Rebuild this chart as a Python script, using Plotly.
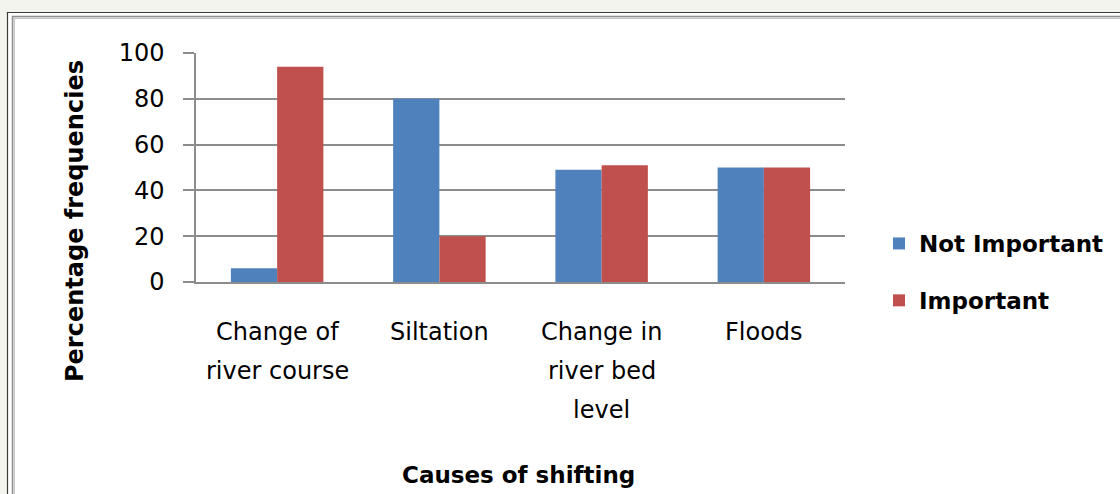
import plotly.graph_objects as go

# ---- data -------------------------------------------------------------
categories = ["Change of river course", "Siltation", "Change in river bed level", "Floods"]
tick_lines = [["Change of", "river course"], ["Siltation"],
              ["Change in", "river bed", "level"], ["Floods"]]
not_important = [6, 80, 49, 50]
important = [94, 20, 51, 50]
y_ticks = [0, 20, 40, 60, 80, 100]

# ---- geometry of the figure (pixels) ----------------------------------
W, H = 1120, 494
L, R, T, B = 196, 845, 53, 282          # plot-area edges
PW, PH = R - L, B - T
LABEL_TOP, LINE_STEP = 332, 39          # category label first line / spacing


def px(x):
    return (x - L) / PW


def py(y):
    return (B - y) / PH


FONT = "DejaVu Sans"
BLUE = "#4f81bd"
RED = "#c0504d"
GRID = "#8c8c8c"

fig = go.Figure()
fig.add_trace(go.Bar(x=categories, y=not_important, name="Not Important",
                     marker=dict(color=BLUE, line=dict(width=0)),
                     legendgroup="a"))
fig.add_trace(go.Bar(x=categories, y=important, name="Important",
                     marker=dict(color=RED, line=dict(width=0)),
                     legendgroup="b"))

# chart frame: dark outer rule and a grey double inner rule
frame = [
    (7.5, 12.5, "#3c3c3c", 1.2, "white"),
    (12.5, 16.5, "#8f8f8f", 1.5, "rgba(0,0,0,0)"),
    (14.2, 18.2, "#c6c6c6", 1.5, "rgba(0,0,0,0)"),
]
shapes = []
for x0, y0, col, lw, fill in frame:
    shapes.append(dict(type="rect", xref="paper", yref="paper", layer="below",
                       x0=px(x0), y0=py(H + 30), x1=px(W + 30), y1=py(y0),
                       line=dict(color=col, width=lw), fillcolor=fill))

annotations = [
    dict(text="<b>Percentage frequencies</b>", xref="paper", yref="paper",
         x=px(75), y=py(221), showarrow=False, textangle=-90,
         xanchor="center", yanchor="middle",
         font=dict(family=FONT, size=24, color="black")),
    dict(text="<b>Causes of shifting</b>", xref="paper", yref="paper",
         x=px(518), y=py(475), showarrow=False,
         xanchor="center", yanchor="middle",
         font=dict(family=FONT, size=23, color="black")),
]
# category labels, one annotation per text line for wider line spacing
for cat, lines in zip(categories, tick_lines):
    for i, line in enumerate(lines):
        annotations.append(dict(
            text=line, xref="x", yref="paper", x=cat,
            y=py(LABEL_TOP + i * LINE_STEP), showarrow=False,
            xanchor="center", yanchor="middle",
            font=dict(family=FONT, size=24, color="black")))

fig.update_layout(
    width=W, height=H,
    margin=dict(l=L, r=W - R, t=T, b=H - B, autoexpand=False),
    paper_bgcolor="#f4f4ee",
    plot_bgcolor="rgba(0,0,0,0)",
    barmode="group", bargap=0.43, bargroupgap=0,
    font=dict(family=FONT, size=24, color="black"),
    shapes=shapes,
    annotations=annotations,
    legend=dict(x=px(879), y=py(222), xanchor="left", yanchor="top",
                xref="paper", yref="paper",
                font=dict(family=FONT, size=23, color="black", weight="bold"),
                tracegroupgap=24, bgcolor="rgba(0,0,0,0)"),
    showlegend=True,
)
fig.update_xaxes(
    showline=True, linecolor=GRID, linewidth=1.5,
    ticks="", showgrid=False, showticklabels=False,
)
fig.update_yaxes(
    range=[0, 100], tickvals=y_ticks,
    showline=True, linecolor=GRID, linewidth=1.5,
    ticks="outside", ticklen=11, tickcolor=GRID, tickwidth=1.5,
    showgrid=True, gridcolor=GRID, gridwidth=1.5,
    zeroline=False, ticklabelstandoff=14,
    tickfont=dict(family=FONT, size=24, color="black"),
)

fig.write_html("out.html")
